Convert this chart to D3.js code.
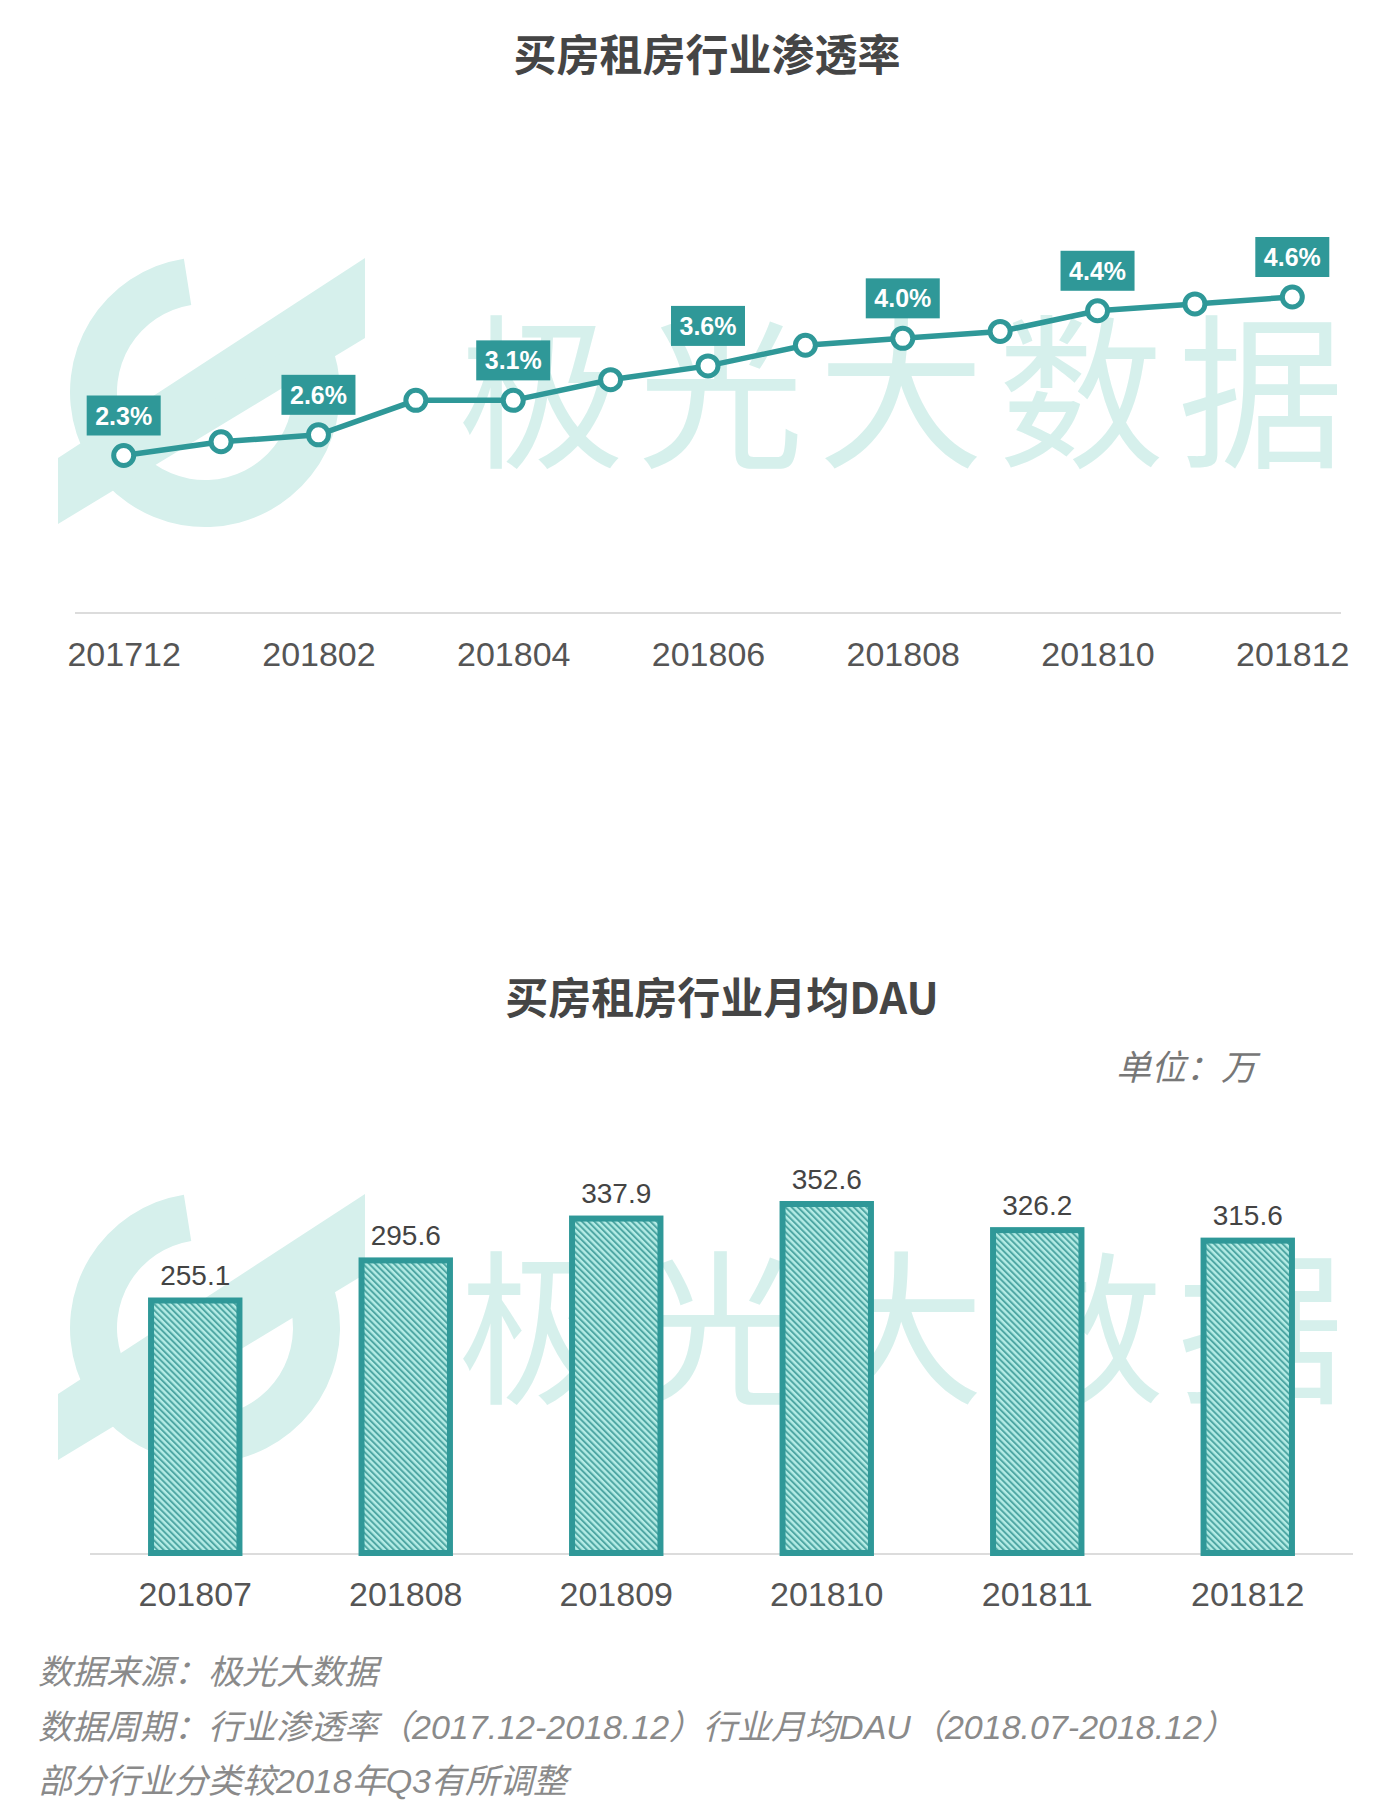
<!DOCTYPE html>
<html><head><meta charset="utf-8">
<script src="https://cdn.jsdelivr.net/npm/d3@7/dist/d3.min.js"></script>
<style>body{margin:0;background:#fff}svg{display:block}</style>
</head><body>
<svg id="c" width="1400" height="1820"></svg>
<script>
// ---- data ----
const lineMonths = ["201712","201801","201802","201803","201804","201805","201806","201807","201808","201809","201810","201811","201812"];
const penetration = [2.3, 2.5, 2.6, 3.1, 3.1, 3.4, 3.6, 3.9, 4.0, 4.1, 4.4, 4.5, 4.6];
const labeledMonths = ["201712","201802","201804","201806","201808","201810","201812"];
const barMonths = ["201807","201808","201809","201810","201811","201812"];
const dau = [255.1, 295.6, 337.9, 352.6, 326.2, 315.6];
const title1 = "买房租房行业渗透率";
const title2 = "买房租房行业月均DAU";
const unitText = "单位：万";
const footnotes = ["数据来源：极光大数据","数据周期：行业渗透率（2017.12-2018.12）行业月均DAU（2018.07-2018.12）","部分行业分类较2018年Q3有所调整"];
const watermark = "极光大数据";

const TEAL = "#2f9898", WM = "#d6f0ec";
const FONT = "'Liberation Sans', Arial, 'Noto Sans CJK SC', sans-serif";
const svg = d3.select("#c").style("font-family", FONT);

// hatch pattern
const defs = svg.append("defs");
const pat = defs.append("pattern").attr("id","hatch").attr("patternUnits","userSpaceOnUse")
  .attr("width",4.4).attr("height",4.4).attr("patternTransform","rotate(-45)");
pat.append("rect").attr("width",4.4).attr("height",4.4).attr("fill","#b4ece5");
pat.append("rect").attr("width",2).attr("height",4.4).attr("fill","#4fa7a4");

function drawWatermark(oy){
  const g = svg.append("g").attr("transform",`translate(0,${oy})`);
  const arc = d3.arc().innerRadius(88).outerRadius(135);
  g.append("path").attr("transform","translate(205,392)")
    .attr("d", arc({startAngle: Math.PI*0.30, endAngle: Math.PI*1.95})).attr("fill",WM);
  g.append("path").attr("d","M58,458 L365,258 L365,338 L58,524 Z").attr("fill",WM);
  g.append("path").attr("d","M150,410 L230,350 L285,350 L200,410 Z").attr("fill",WM);
  g.append("text").attr("x",908).attr("y",382).attr("text-anchor","middle")
    .attr("dominant-baseline","central").attr("font-size",166).attr("font-weight","normal")
    .attr("letter-spacing",14)
    .attr("font-family","'Noto Sans CJK SC', sans-serif").attr("fill",WM).text(watermark);
}

// ---- Chart 1 ----
drawWatermark(0);
svg.append("text").attr("x",707).attr("y",52).attr("text-anchor","middle").attr("dominant-baseline","central")
  .attr("font-size",43).attr("font-weight","bold").attr("fill","#454545")
  .attr("font-family","'Noto Sans CJK SC', sans-serif").text(title1);

const x1 = d3.scalePoint().domain(lineMonths).range([75,1341]).padding(0.5);
const y1 = d3.scaleLinear().domain([0,4.6]).range([614,297]);

svg.append("line").attr("x1",75).attr("x2",1341).attr("y1",613).attr("y2",613)
  .attr("stroke","#dcdcdc").attr("stroke-width",2);

const ax1 = svg.append("g").attr("transform","translate(0,613)")
  .call(d3.axisBottom(x1).tickValues(labeledMonths).tickSize(0).tickPadding(0));
ax1.select(".domain").remove();
ax1.selectAll("text").attr("y",41).attr("dy","0.35em").attr("font-size",34).attr("fill","#555")
  .attr("font-family",FONT);

const ln = d3.line().x((d,i)=>x1(lineMonths[i])).y(d=>y1(d));
svg.append("path").datum(penetration).attr("d",ln).attr("fill","none")
  .attr("stroke",TEAL).attr("stroke-width",5.5);
svg.selectAll("circle.pt").data(penetration).join("circle").attr("class","pt")
  .attr("cx",(d,i)=>x1(lineMonths[i])).attr("cy",d=>y1(d)).attr("r",10)
  .attr("fill","#fff").attr("stroke",TEAL).attr("stroke-width",5);

const lbl = svg.selectAll("g.lbl").data(penetration.map((v,i)=>({m:lineMonths[i],v}))
  .filter(d=>labeledMonths.includes(d.m))).join("g").attr("class","lbl")
  .attr("transform",d=>`translate(${x1(d.m)},${y1(d.v)-40})`);
lbl.append("rect").attr("x",-37).attr("y",-20).attr("width",74).attr("height",40).attr("fill",TEAL);
lbl.append("text").attr("text-anchor","middle").attr("dominant-baseline","central")
  .attr("font-size",25).attr("font-weight","bold").attr("fill","#fff").text(d=>d.v.toFixed(1)+"%");

// ---- Chart 2 ----
drawWatermark(936);
svg.append("text").attr("x",722).attr("y",995).attr("text-anchor","middle").attr("dominant-baseline","central")
  .attr("font-size",43).attr("font-weight","bold").attr("fill","#454545")
  .attr("font-family","'Noto Sans CJK SC', 'Liberation Sans', sans-serif").text(title2);
svg.append("text").attr("x",1256).attr("y",1067).attr("text-anchor","end").attr("dominant-baseline","central")
  .attr("font-size",35).attr("font-style","italic").attr("fill","#777").text(unitText);

const x2 = d3.scaleBand().domain(barMonths).range([90,1353]).paddingInner(0.58).paddingOuter(0.29);
const y2 = d3.scaleLinear().domain([0,352.6]).range([1553,1204]);

svg.append("line").attr("x1",90).attr("x2",1353).attr("y1",1554).attr("y2",1554)
  .attr("stroke","#dcdcdc").attr("stroke-width",2);

svg.selectAll("rect.bar").data(dau).join("rect").attr("class","bar")
  .attr("x",(d,i)=>x2(barMonths[i])).attr("width",x2.bandwidth())
  .attr("y",d=>y2(d)).attr("height",d=>y2(0)-y2(d))
  .attr("fill","url(#hatch)").attr("stroke",TEAL).attr("stroke-width",6);

svg.selectAll("text.val").data(dau).join("text").attr("class","val")
  .attr("x",(d,i)=>x2(barMonths[i])+x2.bandwidth()/2).attr("y",d=>y2(d)-25)
  .attr("text-anchor","middle").attr("dominant-baseline","central")
  .attr("font-size",28).attr("fill","#444").text(d=>d.toFixed(1));

const ax2 = svg.append("g").attr("transform","translate(0,1554)")
  .call(d3.axisBottom(x2).tickSize(0).tickPadding(0));
ax2.select(".domain").remove();
ax2.selectAll("text").attr("y",40).attr("dy","0.35em").attr("font-size",34).attr("fill","#555")
  .attr("font-family",FONT);

// footnotes
svg.selectAll("text.fn").data(footnotes).join("text").attr("class","fn")
  .attr("x",38).attr("y",(d,i)=>[1672,1727,1781][i]).attr("dominant-baseline","central")
  .attr("font-size",34).attr("font-style","italic").attr("fill","#8a8a8a").text(d=>d);
</script>
</body></html>
